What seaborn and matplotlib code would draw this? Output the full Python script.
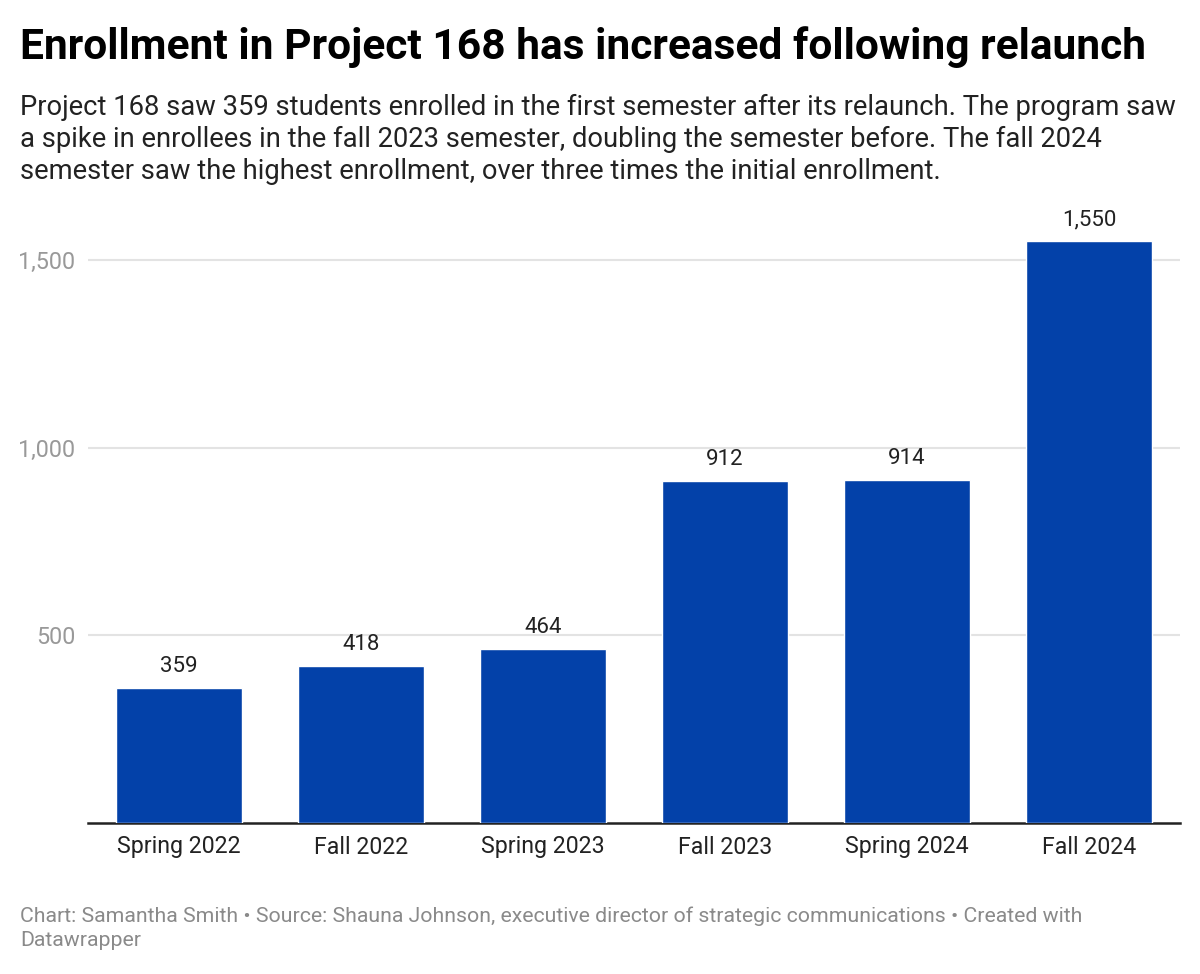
import seaborn as sns
import matplotlib.pyplot as plt
import pandas as pd

# data
semesters = ["Spring 2022", "Fall 2022", "Spring 2023", "Fall 2023", "Spring 2024", "Fall 2024"]
enrolled = [359, 418, 464, 912, 914, 1550]
y_ticks = [500, 1000, 1500]

df = pd.DataFrame({"semester": semesters, "enrolled": enrolled})

sns.set_style("white")
plt.rcParams["font.family"] = ["Roboto", "DejaVu Sans"]

W, H = 1200, 974
fig = plt.figure(figsize=(W / 100, H / 100), dpi=100)
ax = fig.add_axes([88 / W, 1 - 823 / H, (1180 - 88) / W, (823 - 222.5) / H])

sns.barplot(x="semester", y="enrolled", data=df, color="#0341a9", saturation=1,
            width=0.695, ax=ax, zorder=3)

ax.set_ylim(0, 1600)
ax.set_xlim(-0.5, len(semesters) - 0.5)
ax.set_yticks(y_ticks)
ax.set_yticklabels([f"{v:,}" for v in y_ticks], color="#999999", fontsize=16.8)
ax.yaxis.grid(True, color="#e3e3e3", linewidth=1.5, zorder=0)
ax.tick_params(axis="y", length=0, pad=9)
ax.tick_params(axis="x", length=0, pad=9, labelsize=16.7, labelcolor="#222222")
ax.set_xlabel("")
ax.set_ylabel("")
for s in ["top", "right", "left"]:
    ax.spines[s].set_visible(False)
ax.spines["bottom"].set_color("#222222")
ax.spines["bottom"].set_linewidth(1.8)

for i, v in enumerate(enrolled):
    ax.annotate(f"{v:,}", (i, v), xytext=(0, 8), textcoords="offset points",
                ha="center", va="bottom", fontsize=16, color="#222222")

fig.text(20 / W, 1 - 26 / H, "Enrollment in Project 168 has increased following relaunch",
         fontsize=30.6, fontweight="bold", color="#000000", va="top", ha="left")
fig.text(20 / W, 1 - 94 / H,
         "Project 168 saw 359 students enrolled in the first semester after its relaunch. The program saw\n"
         "a spike in enrollees in the fall 2023 semester, doubling the semester before. The fall 2024\n"
         "semester saw the highest enrollment, over three times the initial enrollment.",
         fontsize=19.7, color="#222222", va="top", ha="left", linespacing=1.23)
fig.text(20 / W, 1 - 906 / H,
         "Chart: Samantha Smith \u2022 Source: Shauna Johnson, executive director of strategic communications \u2022 Created with\n"
         "Datawrapper",
         fontsize=15.3, color="#8a8a8a", va="top", ha="left", linespacing=1.38)

fig.savefig("out.png", dpi=100, facecolor="white")
